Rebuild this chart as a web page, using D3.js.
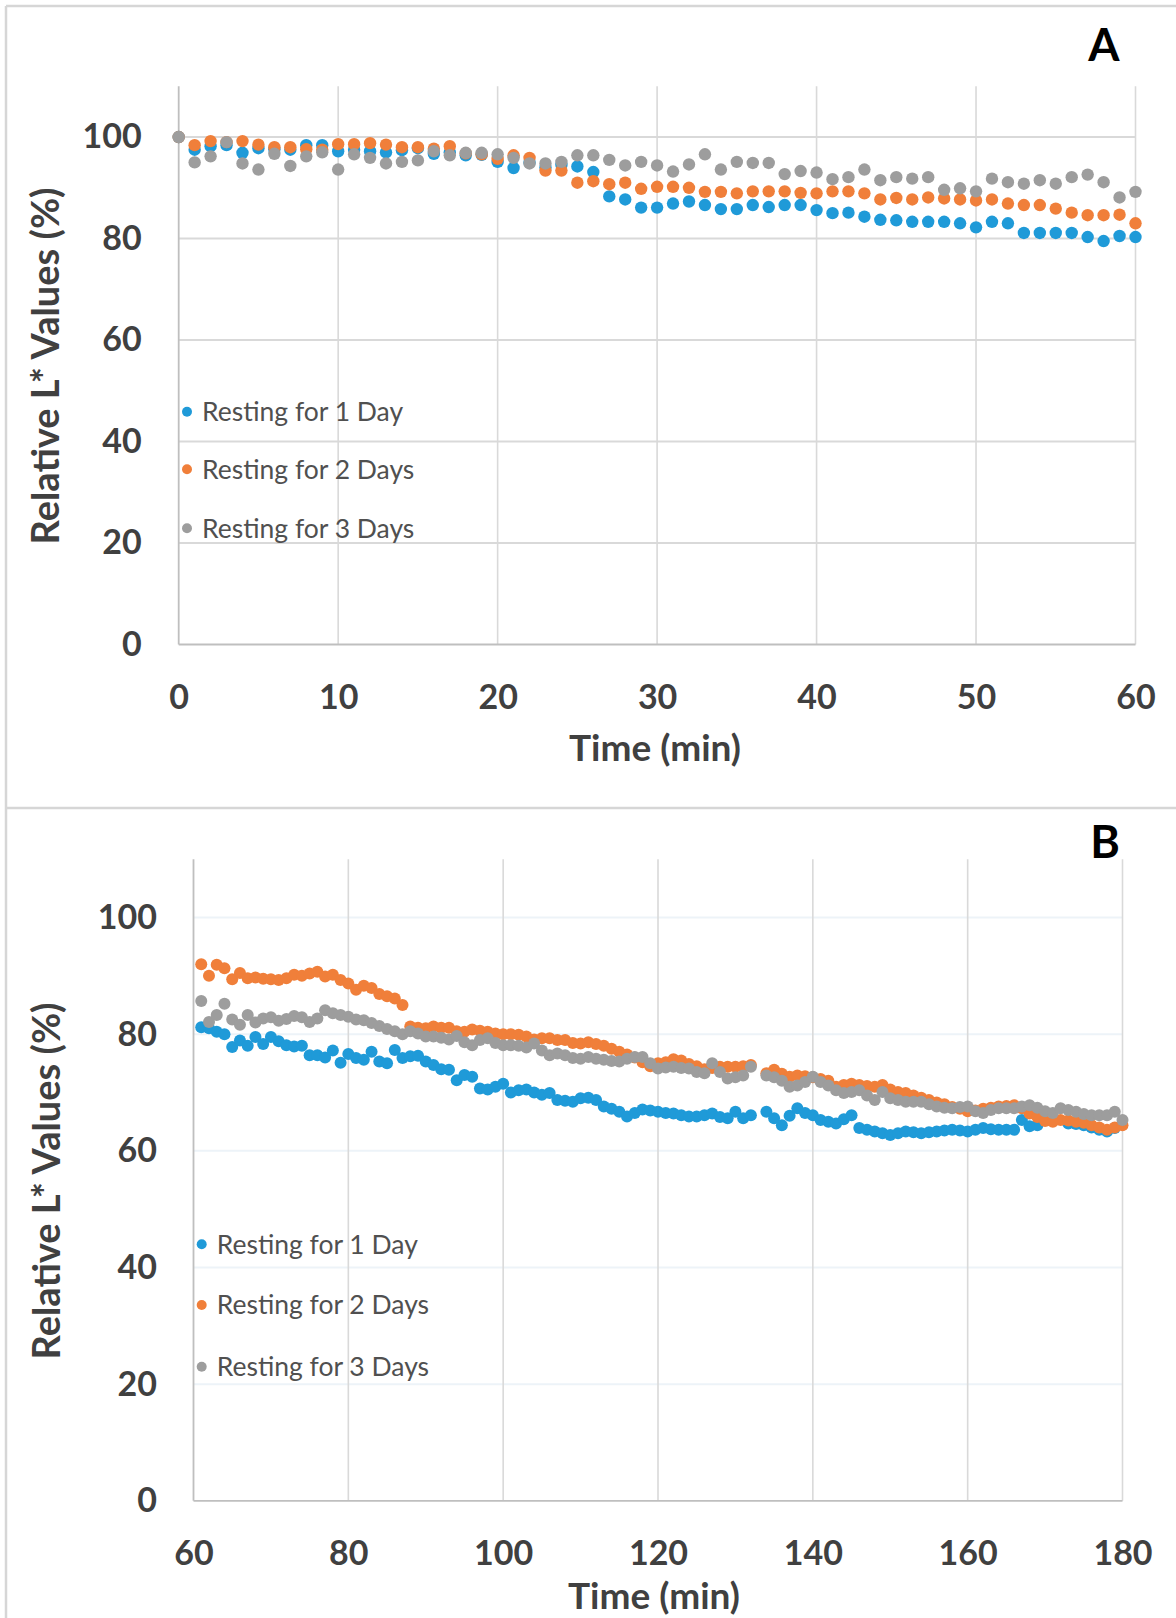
<!DOCTYPE html>
<html>
<head>
<meta charset="utf-8">
<script src="https://cdn.jsdelivr.net/npm/d3@7"></script>
<style>
  body { margin: 0; background: #fff; }
  svg { display: block; }
  text { font-family: Lato, "Open Sans", sans-serif; }
</style>
</head>
<body>
<svg></svg>
<script>
// Series names and colours
const seriesNames = ["Resting for 1 Day", "Resting for 2 Days", "Resting for 3 Days"];
const seriesColors = ["#1f9ad8", "#f07f3a", "#9d9d9d"];

// Panel A: readings every minute, 0..60
const minutesA = d3.range(0, 61);
const blueA = [100, 97.5, 98.2, 98.4, 96.9, 97.8, 97.6, 97.5, 98.4, 98.4,
  97.2, 97.5, 97.2, 97.0, 97.4, 97.8, 96.7, 97.0, 96.4, 96.5,
  95.1, 93.9, 95.0, 94.0, 94.5, 94.2, 93.1, 88.3, 87.7, 86.1,
  86.1, 86.9, 87.3, 86.6, 85.8, 85.8, 86.6, 86.2, 86.6, 86.6,
  85.6, 85.0, 85.1, 84.3, 83.7, 83.6, 83.3, 83.3, 83.3, 83.0,
  82.2, 83.3, 83.0, 81.1, 81.1, 81.1, 81.1, 80.3, 79.5, 80.5, 80.3];
const orangeA = [100, 98.4, 99.2, 99.0, 99.2, 98.5, 98.0, 98.0, 97.6, 97.5,
  98.6, 98.6, 98.8, 98.5, 98.0, 98.0, 97.7, 98.2, 96.8, 96.6,
  95.7, 96.4, 95.9, 93.4, 93.4, 91.0, 91.3, 90.7, 91.0, 89.8,
  90.2, 90.2, 90.0, 89.2, 89.2, 88.9, 89.3, 89.3, 89.3, 89.0,
  88.9, 89.3, 89.3, 88.9, 87.7, 88.0, 87.7, 88.1, 87.9, 87.7,
  87.5, 87.7, 86.9, 86.6, 86.6, 85.9, 85.1, 84.6, 84.6, 84.7, 83.0];
const grayA = [100, 95.0, 96.2, 99.0, 94.8, 93.6, 96.7, 94.3, 96.2, 97.0,
  93.6, 96.6, 95.9, 94.8, 95.1, 95.4, 97.2, 96.4, 96.9, 96.9,
  96.6, 95.9, 94.8, 94.8, 95.1, 96.4, 96.4, 95.5, 94.4, 95.1,
  94.4, 93.2, 94.6, 96.6, 93.6, 95.1, 94.9, 94.9, 92.7, 93.3,
  93.0, 91.7, 92.1, 93.6, 91.5, 92.1, 91.8, 92.1, 89.6, 89.9,
  89.3, 91.8, 91.1, 90.8, 91.5, 90.8, 92.1, 92.6, 91.1, 88.1, 89.2];

// Panel B: readings every minute, 61..180 (null = no point)
const minutesB = d3.range(61, 181);
const blueB = [81.2, 81.0, 80.4, 80.0, 77.8, 78.9, 78.0, 79.5, 78.3, 79.5,
  78.8, 78.1, 77.9, 78.0, 76.4, 76.4, 76.0, 77.2, 75.1, 76.6,
  75.9, 75.6, 77.0, 75.3, 75.0, 77.3, 75.9, 76.2, 76.3, 75.3,
  74.7, 74.0, 73.9, 72.1, 73.0, 72.7, 70.7, 70.5, 71.0, 71.5,
  70.0, 70.4, 70.5, 70.0, 69.6, 69.9, 68.7, 68.6, 68.4, 69.0,
  69.1, 68.7, 67.6, 67.2, 66.7, 65.9, 66.5, 67.1, 66.9, 66.7,
  66.5, 66.4, 66.1, 65.9, 65.9, 66.1, 66.4, 65.8, 65.6, 66.7,
  65.6, 66.1, null, 66.7, 65.6, 64.4, 66.0, 67.3, 66.5, 66.1,
  65.3, 65.0, 64.7, 65.4, 66.1, 63.9, 63.6, 63.3, 63.0, 62.7,
  63.0, 63.3, 63.2, 63.0, 63.2, 63.3, 63.5, 63.6, 63.5, 63.3,
  63.6, 63.9, 63.7, 63.6, 63.6, 63.6, 65.3, 64.2, 64.4, null,
  null, null, 64.7, 64.6, 64.4, 64.0, 63.6, 63.3, 63.9, null];
const orangeB = [92.0, 90.0, 91.9, 91.3, 89.4, 90.5, 89.6, 89.7, 89.5, 89.4,
  89.3, 89.6, 90.2, 90.0, 90.4, 90.7, 89.9, 90.2, 89.3, 88.7,
  87.6, 88.3, 87.9, 86.9, 86.5, 86.1, 85.0, 81.3, 81.1, 81.0,
  81.3, 81.1, 81.1, 80.5, 80.4, 80.8, 80.6, 80.4, 80.1, 80.0,
  80.0, 79.9, 79.6, 79.1, 79.3, 79.3, 79.0, 79.0, 78.5, 78.4,
  78.6, 78.3, 78.0, 77.5, 77.0, 76.5, 76.0, 75.2, 74.5, 75.0,
  75.2, 75.7, 75.5, 74.9, 74.5, 74.0, 74.2, 74.4, 74.4, 74.4,
  74.5, 74.7, null, 73.3, 73.9, 73.2, 72.7, 72.9, 72.8, 72.6,
  72.3, 72.0, 71.0, 71.3, 71.5, 71.3, 71.1, 71.0, 71.3, 70.5,
  70.1, 69.9, 69.5, 69.1, 68.7, 68.3, 68.0, 67.5, 67.2, 66.8,
  66.9, 67.2, 67.4, 67.6, 67.7, 67.8, 67.3, 66.4, 65.8, 65.1,
  65.0, 65.3, 65.2, 65.0, 64.8, 64.4, 64.0, 63.6, 64.0, 64.4];
const grayB = [85.7, 82.1, 83.3, 85.2, 82.5, 81.6, 83.3, 82.0, 82.7, 82.9,
  82.3, 82.6, 83.1, 82.9, 82.1, 82.7, 84.1, 83.6, 83.3, 83.0,
  82.5, 82.4, 81.9, 81.4, 80.9, 80.5, 80.0, 80.5, 80.1, 79.6,
  79.6, 79.4, 79.1, 79.7, 78.6, 78.1, 79.0, 79.3, 78.5, 78.1,
  78.1, 78.0, 77.7, 78.4, 77.2, 76.4, 76.7, 76.4, 75.9, 75.8,
  76.1, 75.8, 75.6, 75.4, 75.3, 75.8, 76.1, 76.1, 75.0, 74.1,
  74.3, 74.4, 74.2, 74.1, 73.5, 73.3, 75.0, 73.5, 72.4, 72.6,
  72.9, 74.4, null, 72.9, 72.6, 72.0, 71.0, 71.2, 71.8, 72.7,
  71.8, 71.2, 70.4, 69.9, 70.1, 70.4, 69.5, 68.7, 70.1, 69.0,
  68.7, 68.4, 68.4, 68.4, 68.0, 67.6, 67.4, 67.3, 67.5, 67.6,
  66.8, 66.5, 67.0, 67.3, 67.3, 67.3, 67.6, 67.8, 67.4, 66.8,
  66.5, 67.3, 67.0, 66.7, 66.3, 66.1, 66.1, 66.1, 66.7, 65.3];

// Axis ticks
const yTicks = [0, 20, 40, 60, 80, 100];
const xTicksA = [0, 10, 20, 30, 40, 50, 60];
const xTicksB = [60, 80, 100, 120, 140, 160, 180];

const width = 1176, height = 1618;
const svg = d3.select("svg").attr("width", width).attr("height", height);

// Panel frames
const frame = svg.append("g").attr("stroke", "#d6d6d6").attr("stroke-width", 2.5).attr("fill", "none");
frame.append("line").attr("x1", 6).attr("x2", width).attr("y1", 6).attr("y2", 6);
frame.append("line").attr("x1", 6).attr("x2", 6).attr("y1", 6).attr("y2", height);
frame.append("line").attr("x1", 6).attr("x2", width).attr("y1", 808).attr("y2", 808);

const drawPanel = (p) => {
  const x = d3.scaleLinear().domain(p.xDomain).range(p.xRange);
  const y = d3.scaleLinear().domain([0, 110]).range(p.yRange);
  const g = svg.append("g");

  // horizontal grid
  g.append("g").selectAll("line")
    .data(yTicks.filter(d => d > 0))
    .enter().append("line")
    .attr("x1", x.range()[0]).attr("x2", x.range()[1])
    .attr("y1", d => y(d)).attr("y2", d => y(d))
    .attr("stroke", p.hGrid).attr("stroke-width", 2);

  // vertical grid
  g.append("g").selectAll("line")
    .data(p.xTicks.slice(1))
    .enter().append("line")
    .attr("x1", d => x(d)).attr("x2", d => x(d))
    .attr("y1", y(0)).attr("y2", y(110))
    .attr("stroke", "#d9d9d9").attr("stroke-width", 1.6);

  // axes lines
  g.append("line").attr("x1", x.range()[0]).attr("x2", x.range()[0])
    .attr("y1", y(0)).attr("y2", y(110)).attr("stroke", "#bfbfbf").attr("stroke-width", 1.8);
  g.append("line").attr("x1", x.range()[0]).attr("x2", x.range()[1])
    .attr("y1", y(0)).attr("y2", y(0)).attr("stroke", "#bfbfbf").attr("stroke-width", 1.8);

  // tick labels
  const yAxis = g.append("g")
    .attr("transform", `translate(${x.range()[0]},0)`)
    .call(d3.axisLeft(y).tickValues(yTicks).tickSize(0).tickPadding(p.yPad));
  yAxis.select(".domain").remove();
  const xAxis = g.append("g")
    .attr("transform", `translate(0,${y(0)})`)
    .call(d3.axisBottom(x).tickValues(p.xTicks).tickSize(0).tickPadding(p.xPad));
  xAxis.select(".domain").remove();
  g.selectAll(".tick text")
    .attr("font-family", "Lato, sans-serif")
    .attr("font-size", 34).attr("font-weight", "bold").attr("fill", "#404040");

  // points
  p.series.forEach((vals, i) => {
    const pts = p.minutes.map((t, k) => ({ t, v: vals[k] })).filter(d => d.v != null);
    g.append("g").selectAll("circle")
      .data(pts)
      .enter().append("circle")
      .attr("cx", d => x(d.t))
      .attr("cy", d => y(d.v))
      .attr("r", p.r)
      .attr("fill", seriesColors[i]);
  });

  // legend
  const lg = g.append("g");
  seriesNames.forEach((name, i) => {
    lg.append("circle").attr("cx", p.legend.x).attr("cy", p.legend.y[i])
      .attr("r", 5).attr("fill", seriesColors[i]);
    lg.append("text").attr("x", p.legend.x + 15).attr("y", p.legend.y[i])
      .attr("dy", "0.35em").attr("font-size", 26.5).attr("fill", "#505050")
      .text(name);
  });

  // axis titles
  g.append("text")
    .attr("x", p.xTitle[0]).attr("y", p.xTitle[1])
    .attr("text-anchor", "middle").attr("font-size", 37).attr("font-weight", "bold")
    .attr("fill", "#404040").text("Time (min)");
  g.append("text")
    .attr("transform", `translate(${p.yTitle[0]},${p.yTitle[1]}) rotate(-90)`)
    .attr("text-anchor", "middle").attr("font-size", 38).attr("font-weight", "bold")
    .attr("fill", "#404040").text("Relative L* Values (%)");

  // panel letter
  g.append("text")
    .attr("x", p.letterPos[0]).attr("y", p.letterPos[1])
    .attr("text-anchor", "middle").attr("dy", "0.36em")
    .attr("font-family", "Liberation Sans, Arial, sans-serif")
    .attr("font-size", 45).attr("font-weight", "bold").attr("fill", "#000")
    .text(p.letter);
};

drawPanel({
  minutes: minutesA, series: [blueA, orangeA, grayA],
  xDomain: [0, 60], xTicks: xTicksA, xRange: [178.7, 1135.5], yRange: [644.5, 86.3],
  hGrid: "#d9d9d9", r: 6.2, yPad: 37, xPad: 40,
  legend: { x: 187, y: [411.7, 469.3, 528.3] },
  xTitle: [655, 761], yTitle: [59, 366], letter: "A", letterPos: [1104, 45]
});

drawPanel({
  minutes: minutesB, series: [blueB, orangeB, grayB],
  xDomain: [60, 180], xTicks: xTicksB, xRange: [193.5, 1122.5], yRange: [1500.8, 859.2],
  hGrid: "#edf3f8", r: 6, yPad: 36.5, xPad: 40,
  legend: { x: 201.7, y: [1244.3, 1305, 1366.7] },
  xTitle: [654, 1609], yTitle: [60, 1181], letter: "B", letterPos: [1105, 842]
});
</script>
</body>
</html>
